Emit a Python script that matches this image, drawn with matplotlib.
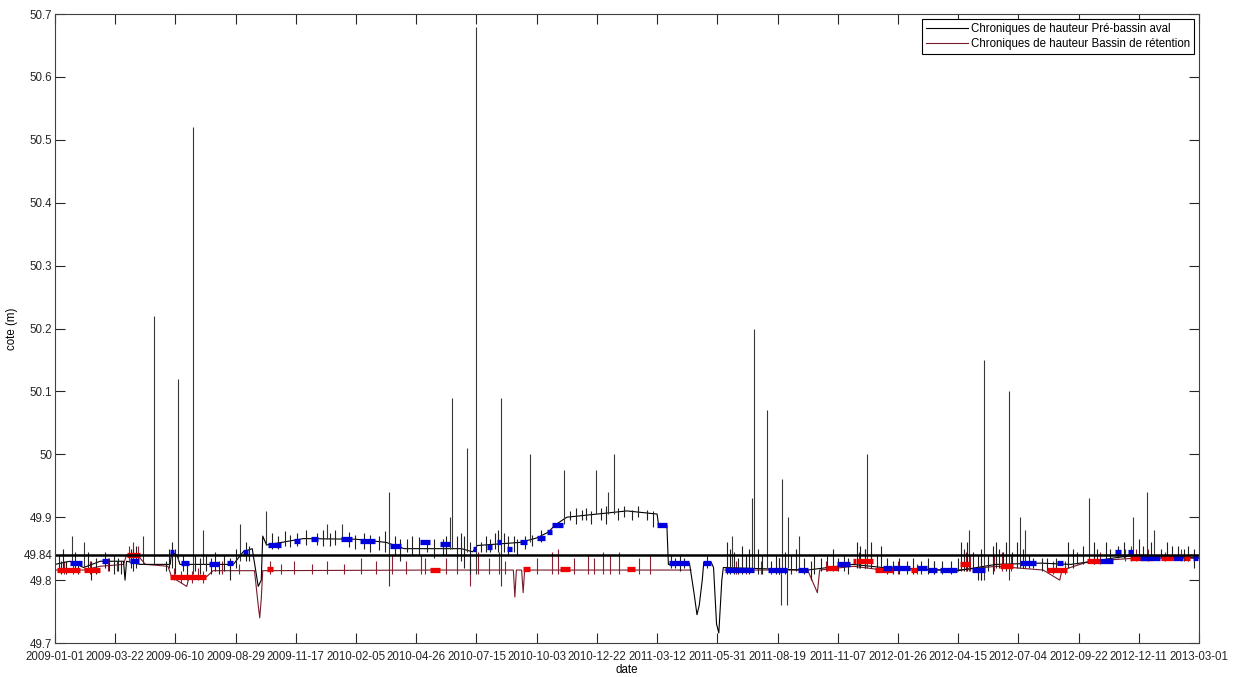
import numpy as np
import matplotlib
matplotlib.use("Agg")
import matplotlib.pyplot as plt
import matplotlib.dates as mdates
from datetime import datetime

# day offsets are counted from 2009-01-01
t0 = mdates.date2num(datetime(2009, 1, 1))

# Pre-bassin aval : base level breakpoints (day, cote)
aval_base = [
    (0, 49.825), (20, 49.83), (38, 49.82), (60, 49.83), (91, 49.83), (93, 49.80),
    (95, 49.83), (113, 49.825), (153, 49.825), (155, 49.845), (162, 49.84),
    (166, 49.825), (237, 49.825), (250, 49.845), (262, 49.85), (266, 49.82),
    (270, 49.79), (274, 49.80), (276, 49.87), (281, 49.856), (301, 49.86),
    (330, 49.866), (400, 49.865), (440, 49.86), (464, 49.85), (509, 49.85),
    (540, 49.85), (555, 49.845), (561, 49.855), (618, 49.86), (640, 49.867),
    (655, 49.876), (665, 49.888), (680, 49.90), (720, 49.905), (760, 49.91),
    (800, 49.905), (802, 49.887), (813, 49.887), (815, 49.825), (843, 49.827),
    (849, 49.78), (853, 49.745), (856, 49.76), (860, 49.80), (862, 49.828),
    (872, 49.828), (875, 49.82), (879, 49.73), (882, 49.716), (886, 49.80),
    (888, 49.82), (1000, 49.816), (1060, 49.825), (1100, 49.82), (1200, 49.815),
    (1250, 49.825), (1310, 49.827), (1350, 49.825), (1380, 49.83), (1406, 49.835),
    (1437, 49.84), (1520, 49.835),
]
# short excursions of the aval series (day, low, high)
aval_grass = [
    (5, 49.815, 49.84), (8, 49.81, 49.83), (11, 49.82, 49.85), (14, 49.81, 49.83),
    (26, 49.82, 49.845), (30, 49.81, 49.83), (44, 49.815, 49.845), (48, 49.80, 49.83),
    (55, 49.81, 49.835), (66, 49.82, 49.845), (72, 49.815, 49.835), (78, 49.81, 49.84),
    (84, 49.815, 49.835), (88, 49.81, 49.83), (101, 49.82, 49.85), (104, 49.815, 49.85),
    (108, 49.82, 49.855), (147, 49.815, 49.83), (152, 49.82, 49.85), (156, 49.82, 49.86),
    (160, 49.81, 49.85), (170, 49.815, 49.84), (176, 49.80, 49.83), (186, 49.815, 49.84),
    (192, 49.81, 49.835), (200, 49.815, 49.84), (207, 49.81, 49.835), (212, 49.815, 49.845),
    (218, 49.81, 49.83), (225, 49.815, 49.84), (232, 49.80, 49.835), (240, 49.82, 49.85),
    (254, 49.83, 49.86), (258, 49.83, 49.855), (288, 49.85, 49.875), (296, 49.85, 49.87),
    (305, 49.855, 49.878), (312, 49.852, 49.872), (322, 49.855, 49.875), (333, 49.856, 49.88),
    (348, 49.856, 49.875), (356, 49.855, 49.88), (366, 49.855, 49.875), (372, 49.856, 49.88),
    (390, 49.852, 49.876), (398, 49.85, 49.872), (410, 49.85, 49.875), (418, 49.845, 49.872),
    (430, 49.848, 49.87), (438, 49.845, 49.878), (452, 49.84, 49.87), (458, 49.83, 49.865),
    (468, 49.845, 49.865), (474, 49.84, 49.87), (484, 49.84, 49.868), (494, 49.845, 49.862),
    (504, 49.835, 49.865), (515, 49.84, 49.865), (520, 49.84, 49.87), (534, 49.835, 49.87),
    (540, 49.83, 49.875), (544, 49.82, 49.87), (552, 49.81, 49.86), (566, 49.845, 49.86),
    (572, 49.845, 49.87), (578, 49.845, 49.865), (584, 49.85, 49.875), (588, 49.845, 49.88),
    (596, 49.845, 49.875), (602, 49.84, 49.87), (610, 49.845, 49.87), (614, 49.84, 49.865),
    (624, 49.85, 49.87), (634, 49.855, 49.872), (646, 49.86, 49.88), (684, 49.895, 49.91),
    (692, 49.89, 49.915), (700, 49.895, 49.912), (706, 49.895, 49.915), (712, 49.89, 49.91),
    (726, 49.895, 49.915), (732, 49.89, 49.918), (748, 49.895, 49.915), (756, 49.9, 49.918),
    (766, 49.895, 49.912), (774, 49.9, 49.918), (786, 49.895, 49.912), (794, 49.885, 49.91),
    (818, 49.82, 49.84), (824, 49.82, 49.835), (830, 49.815, 49.84), (836, 49.82, 49.835),
    (866, 49.82, 49.84), (893, 49.81, 49.86), (897, 49.81, 49.85), (902, 49.81, 49.845),
    (908, 49.81, 49.835), (913, 49.81, 49.855), (918, 49.815, 49.84), (922, 49.81, 49.85),
    (934, 49.81, 49.85), (940, 49.81, 49.84), (952, 49.81, 49.83), (958, 49.81, 49.84),
    (962, 49.81, 49.835), (970, 49.81, 49.845), (978, 49.81, 49.84), (984, 49.815, 49.85),
    (995, 49.81, 49.835), (1004, 49.80, 49.83), (1008, 49.81, 49.84), (1018, 49.815, 49.835),
    (1026, 49.815, 49.84), (1034, 49.815, 49.85), (1040, 49.815, 49.835), (1048, 49.815, 49.84),
    (1054, 49.81, 49.835), (1066, 49.82, 49.86), (1070, 49.82, 49.855), (1076, 49.82, 49.85),
    (1084, 49.82, 49.86), (1092, 49.815, 49.84), (1098, 49.815, 49.855), (1106, 49.81, 49.835),
    (1114, 49.81, 49.83), (1122, 49.81, 49.835), (1132, 49.81, 49.83), (1140, 49.81, 49.835),
    (1150, 49.81, 49.83), (1160, 49.81, 49.835), (1168, 49.81, 49.83), (1178, 49.81, 49.83),
    (1190, 49.81, 49.83), (1200, 49.815, 49.835), (1204, 49.815, 49.86), (1208, 49.815, 49.85),
    (1212, 49.815, 49.86), (1220, 49.815, 49.845), (1226, 49.80, 49.84), (1230, 49.80, 49.85),
    (1240, 49.815, 49.84), (1246, 49.81, 49.855), (1250, 49.82, 49.86), (1254, 49.82, 49.85),
    (1260, 49.82, 49.845), (1264, 49.815, 49.86), (1272, 49.82, 49.845), (1278, 49.82, 49.86),
    (1286, 49.82, 49.85), (1294, 49.82, 49.84), (1300, 49.82, 49.835), (1312, 49.815, 49.835),
    (1318, 49.815, 49.835), (1330, 49.815, 49.835), (1346, 49.82, 49.86), (1352, 49.82, 49.85),
    (1358, 49.825, 49.845), (1366, 49.825, 49.855), (1380, 49.825, 49.86), (1384, 49.83, 49.85),
    (1396, 49.83, 49.86), (1402, 49.83, 49.85), (1412, 49.835, 49.855), (1420, 49.835, 49.86),
    (1440, 49.835, 49.865), (1446, 49.835, 49.855), (1456, 49.835, 49.86), (1470, 49.835, 49.85),
    (1478, 49.835, 49.86), (1484, 49.835, 49.855), (1492, 49.835, 49.855), (1500, 49.83, 49.85),
    (1506, 49.83, 49.855), (1514, 49.82, 49.85),
]
# Bassin de retention : base level breakpoints (day, cote)
retention_base = [
    (0, 49.816), (38, 49.816), (60, 49.822), (91, 49.825), (95, 49.84),
    (113, 49.835), (120, 49.825), (150, 49.822), (155, 49.805), (175, 49.79),
    (178, 49.805), (201, 49.805), (210, 49.815), (265, 49.815), (270, 49.76),
    (272, 49.74), (274, 49.77), (276, 49.815), (500, 49.816), (609, 49.816),
    (611, 49.773), (613, 49.816), (620, 49.816), (622, 49.78), (624, 49.816),
    (845, 49.816), (846, np.nan), (889, np.nan), (890, 49.816), (1000, 49.816),
    (1013, 49.78), (1016, 49.816), (1061, 49.822), (1100, 49.816), (1200, 49.816),
    (1251, 49.822), (1313, 49.816), (1335, 49.80), (1338, 49.816), (1349, 49.82),
    (1375, 49.83), (1437, 49.835), (1520, 49.835),
]
# short excursions of the retention series (day, low, high)
retention_grass = [
    (12, 49.81, 49.83), (24, 49.81, 49.825), (46, 49.81, 49.83), (70, 49.815, 49.835),
    (82, 49.815, 49.83), (98, 49.83, 49.855), (104, 49.83, 49.86), (110, 49.83, 49.855),
    (158, 49.80, 49.82), (168, 49.795, 49.815), (182, 49.795, 49.815), (190, 49.80, 49.82),
    (196, 49.795, 49.815), (222, 49.81, 49.83), (244, 49.81, 49.825), (286, 49.81, 49.83),
    (300, 49.81, 49.825), (318, 49.81, 49.83), (342, 49.81, 49.825), (362, 49.81, 49.83),
    (384, 49.81, 49.825), (406, 49.81, 49.835), (426, 49.81, 49.83), (448, 49.81, 49.84),
    (466, 49.81, 49.83), (486, 49.81, 49.84), (492, 49.81, 49.835), (520, 49.81, 49.835),
    (534, 49.81, 49.84), (552, 49.79, 49.83), (562, 49.81, 49.845), (576, 49.81, 49.835),
    (590, 49.81, 49.845), (598, 49.81, 49.83), (640, 49.81, 49.835), (660, 49.81, 49.845),
    (668, 49.81, 49.85), (690, 49.81, 49.835), (708, 49.81, 49.84), (716, 49.81, 49.835),
    (728, 49.81, 49.845), (738, 49.81, 49.84), (750, 49.81, 49.845), (776, 49.81, 49.835),
    (790, 49.81, 49.84), (905, 49.81, 49.83), (918, 49.81, 49.835), (938, 49.81, 49.83),
    (962, 49.81, 49.835), (1024, 49.815, 49.83), (1068, 49.82, 49.845), (1076, 49.82, 49.85),
    (1084, 49.82, 49.845), (1120, 49.81, 49.83), (1145, 49.81, 49.825), (1168, 49.81, 49.83),
    (1210, 49.815, 49.845), (1216, 49.815, 49.84), (1230, 49.80, 49.835), (1248, 49.815, 49.84),
    (1258, 49.815, 49.845), (1270, 49.815, 49.84), (1326, 49.81, 49.83), (1342, 49.81, 49.83),
    (1380, 49.825, 49.845), (1388, 49.825, 49.845), (1422, 49.83, 49.85), (1430, 49.83, 49.855),
    (1436, 49.83, 49.85), (1452, 49.83, 49.85), (1475, 49.83, 49.845), (1496, 49.83, 49.85),
]
# peaks of the level series (day, foot, top)
spikes = [
    (22, 49.83, 49.87), (39, 49.82, 49.86), (117, 49.825, 49.87), (132, 49.825, 50.22),
    (164, 49.83, 50.12), (183, 49.81, 50.52), (197, 49.825, 49.88), (246, 49.83, 49.89),
    (280, 49.856, 49.91), (362, 49.865, 49.89), (381, 49.865, 49.89), (444, 49.79, 49.94),
    (525, 49.85, 49.90), (528, 49.85, 50.09), (548, 49.845, 50.01), (559, 49.81, 50.68),
    (592, 49.79, 50.09), (631, 49.86, 50.0), (676, 49.89, 49.975), (719, 49.905, 49.975),
    (735, 49.905, 49.94), (743, 49.905, 50.0), (899, 49.82, 49.87), (926, 49.82, 49.93),
    (929, 49.82, 50.20), (946, 49.82, 50.07), (964, 49.76, 49.82), (966, 49.82, 49.96),
    (973, 49.76, 49.82), (974, 49.82, 49.90), (989, 49.82, 49.87), (1079, 49.82, 50.0),
    (1215, 49.815, 49.88), (1234, 49.80, 50.15), (1267, 49.80, 50.10), (1282, 49.82, 49.90),
    (1289, 49.82, 49.88), (1374, 49.83, 49.93), (1432, 49.835, 49.90), (1451, 49.835, 49.94),
    (1460, 49.835, 49.88),
]
# thick marker runs (start day, end day, cote)
blue_runs = [
    (20, 36, 49.828), (62, 70, 49.83), (100, 112, 49.83), (153, 158, 49.845),
    (168, 178, 49.827), (205, 218, 49.825), (228, 236, 49.827), (250, 256, 49.845),
    (283, 300, 49.856), (318, 325, 49.862), (340, 350, 49.865), (380, 395, 49.865),
    (405, 425, 49.862), (445, 460, 49.855), (485, 498, 49.86), (511, 525, 49.858),
    (555, 560, 49.85), (574, 581, 49.853), (587, 592, 49.86), (600, 607, 49.85),
    (618, 627, 49.86), (640, 651, 49.867), (654, 661, 49.876), (661, 675, 49.888),
    (800, 813, 49.888), (816, 843, 49.827), (861, 872, 49.827), (890, 929, 49.816),
    (947, 973, 49.816), (987, 1000, 49.816), (1039, 1056, 49.825), (1100, 1112, 49.82),
    (1114, 1136, 49.82), (1145, 1158, 49.82), (1160, 1172, 49.816), (1176, 1198, 49.816),
    (1218, 1236, 49.816), (1282, 1304, 49.827), (1331, 1340, 49.827), (1389, 1406, 49.83),
    (1408, 1417, 49.845), (1426, 1433, 49.845), (1442, 1468, 49.835), (1486, 1499, 49.835),
    (1512, 1519, 49.835),
]
red_runs = [
    (2, 33, 49.816), (38, 60, 49.816), (95, 113, 49.84), (153, 201, 49.805),
    (281, 290, 49.818), (498, 512, 49.816), (622, 631, 49.818), (671, 684, 49.818),
    (760, 771, 49.818), (1025, 1040, 49.82), (1060, 1064, 49.83), (1065, 1087, 49.83),
    (1090, 1114, 49.816), (1138, 1145, 49.816), (1202, 1216, 49.825), (1256, 1273, 49.822),
    (1318, 1344, 49.816), (1371, 1389, 49.83), (1428, 1459, 49.835), (1470, 1485, 49.835),
    (1500, 1508, 49.835),
]
ref_level = 49.84
yticks = [49.7, 49.8, 49.84, 49.9, 50, 50.1, 50.2, 50.3, 50.4, 50.5, 50.6, 50.7]
ytick_labels = ['49.7', '49.8', '49.84', '49.9', '50', '50.1', '50.2', '50.3',
                '50.4', '50.5', '50.6', '50.7']


def series(pts):
    d = np.array([p[0] for p in pts], dtype=float)
    v = np.array([p[1] for p in pts], dtype=float)
    return t0 + d, v


def sticks(rows):
    d = t0 + np.array([r[0] for r in rows], dtype=float)
    return d, [r[1] for r in rows], [r[2] for r in rows]


plt.rcParams['font.family'] = ['Liberation Sans', 'DejaVu Sans']
fig = plt.figure(figsize=(12.34, 6.77), dpi=100)
ax = fig.add_axes([0.0446, 0.0502, 0.9270, 0.9291])

xa, ya = series(aval_base)
xr, yr = series(retention_base)

ax.plot(xr, yr, color='#7a1a2a', lw=0.8, label='Chroniques de hauteur Bassin de rétention')
ax.vlines(*sticks(retention_grass), color='#8a2030', lw=0.8)
ax.plot(xa, ya, color='black', lw=0.8, label='Chroniques de hauteur Pré-bassin aval')
ax.vlines(*sticks(aval_grass), color='#202020', lw=0.8)
ax.vlines(*sticks(spikes), color='#383838', lw=0.8)

for a, b, v in red_runs:
    ax.plot([t0 + a, t0 + b], [v, v], color='#ee0000', lw=3.8, solid_capstyle='butt')
for a, b, v in blue_runs:
    ax.plot([t0 + a, t0 + b], [v, v], color='#0000dd', lw=3.8, solid_capstyle='butt')

ax.axhline(ref_level, color='black', lw=1.8)

ax.set_xlim(t0, t0 + 1520)
ax.set_ylim(49.7, 50.7)
ax.set_xticks(t0 + np.arange(0, 1521, 80))
ax.xaxis.set_major_formatter(mdates.DateFormatter('%Y-%m-%d'))
ax.set_yticks(yticks)
ax.set_yticklabels(ytick_labels)
ax.tick_params(direction='in', length=7, width=0.8, top=True, right=True,
               labelsize=8.3, colors='#262626')
ax.tick_params(axis='x', pad=5.5)
ax.tick_params(axis='y', pad=2)
for sp in ax.spines.values():
    sp.set_color('#404040')
    sp.set_linewidth(0.8)
ax.set_xlabel('date', fontsize=8.3, labelpad=1)
ax.set_ylabel('cote (m)', fontsize=8.3, labelpad=4)

h, l = ax.get_legend_handles_labels()
leg = ax.legend(h[::-1], l[::-1], loc='upper right', fontsize=8.3, frameon=True,
                fancybox=False, edgecolor='black', framealpha=1, borderaxespad=0.4,
                handlelength=3.6, handletextpad=0.3, labelspacing=0.25, borderpad=0.35)
leg.get_frame().set_linewidth(0.8)

fig.savefig('out.png', dpi=100)
